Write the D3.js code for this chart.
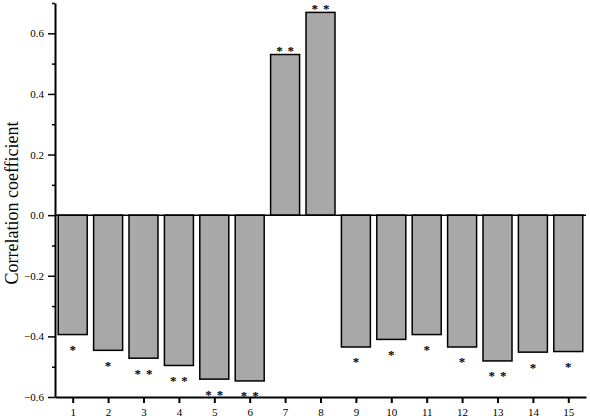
<!DOCTYPE html>
<html>
<head>
  <meta charset="utf-8">
  <script src="https://d3js.org/d3.v7.min.js"></script>
  <style>
    body { margin: 0; background: #fff; }
    .tick text { font-family: "Liberation Serif", "Times New Roman", serif; font-size: 11px; fill: #000; }
    .axis path, .axis line { stroke: #000; }
  </style>
</head>
<body>
<svg width="590" height="420"></svg>
<script>
// dados
var categorias = [1, 2, 3, 4, 5, 6, 7, 8, 9, 10, 11, 12, 13, 14, 15];
var valores = [-0.394, -0.446, -0.472, -0.496, -0.541, -0.547, 0.530, 0.669,
               -0.435, -0.410, -0.394, -0.435, -0.481, -0.452, -0.450];
var signif = ["*", "*", "**", "**", "**", "**", "**", "**", "*", "*", "*", "*", "**", "*", "*"];
var yTicks = [-0.6, -0.4, -0.2, 0.0, 0.2, 0.4, 0.6];

var svg = d3.select("svg");

var x = d3.scaleLinear().domain([0.5, 15.5]).range([55, 586]);
var y = d3.scaleLinear().domain([-0.6, 0.7]).range([397, 3]);
var barW = 29;

// barras
svg.selectAll(".bar")
    .data(valores)
  .enter().append("rect")
    .attr("class", "bar")
    .attr("x", function(d, i) { return x(categorias[i]) - barW / 2; })
    .attr("y", function(d) { return y(Math.max(0, d)); })
    .attr("width", barW)
    .attr("height", function(d) { return Math.abs(y(d) - y(0)); })
    .attr("fill", "#a8a8a8")
    .attr("stroke", "#000")
    .attr("stroke-width", 1.5);

// asteriscos (centro do asterisco fica ~0.54em acima da linha de base)
var pts = [];
valores.forEach(function(d, i) {
  var n = signif[i].length;
  var yy = d < 0 ? y(d) + 12.5 : y(d) - 6.5;
  for (var k = 0; k < n; k++) {
    var off = n === 1 ? 0 : (k === 0 ? -5.7 : 5.7);
    pts.push({x: x(categorias[i]) + off, y: yy});
  }
});
svg.selectAll(".star")
    .data(pts)
  .enter().append("text")
    .attr("class", "star")
    .attr("x", function(d) { return d.x; })
    .attr("y", function(d) { return d.y + 7; })
    .attr("text-anchor", "middle")
    .style("font-family", "Liberation Serif, serif")
    .style("font-size", "13px")
    .style("font-weight", "bold")
    .text("*");

// linha do zero
svg.append("line")
    .attr("x1", x(0.5)).attr("x2", x(15.5))
    .attr("y1", y(0)).attr("y2", y(0))
    .attr("stroke", "#000").attr("stroke-width", 1.5);

// eixo x
var gx = svg.append("g")
    .attr("class", "axis")
    .attr("transform", "translate(0," + y(-0.6) + ")")
    .call(d3.axisBottom(x).tickValues(categorias).tickFormat(d3.format("d")).tickSize(6).tickSizeOuter(0));
gx.select(".domain").attr("stroke-width", 2);
gx.selectAll(".tick line").attr("stroke-width", 2);
gx.selectAll(".tick text").attr("dy", "0.9em");

// eixo y - ticks menores
var minor = d3.range(-0.5, 0.71, 0.2);
svg.append("g")
    .attr("class", "axis")
    .attr("transform", "translate(" + x(0.5) + ",0)")
    .call(d3.axisLeft(y).tickValues(minor).tickSize(3).tickFormat(""))
    .call(function(g) { g.select(".domain").remove(); })
    .selectAll("line").attr("stroke-width", 1.5);

var gy = svg.append("g")
    .attr("class", "axis")
    .attr("transform", "translate(" + x(0.5) + ",0)")
    .call(d3.axisLeft(y).tickValues(yTicks).tickFormat(d3.format(".1f")).tickSize(7).tickSizeOuter(0));
gy.select(".domain").attr("stroke-width", 2);
gy.selectAll(".tick line").attr("stroke-width", 1.5);
gy.selectAll(".tick text").attr("x", -11);

// título do eixo y
svg.append("text")
    .attr("transform", "translate(18,203) rotate(-90)")
    .attr("text-anchor", "middle")
    .style("font-family", "Liberation Serif, serif")
    .style("font-size", "18px")
    .text("Correlation coefficient");
</script>
</body>
</html>
